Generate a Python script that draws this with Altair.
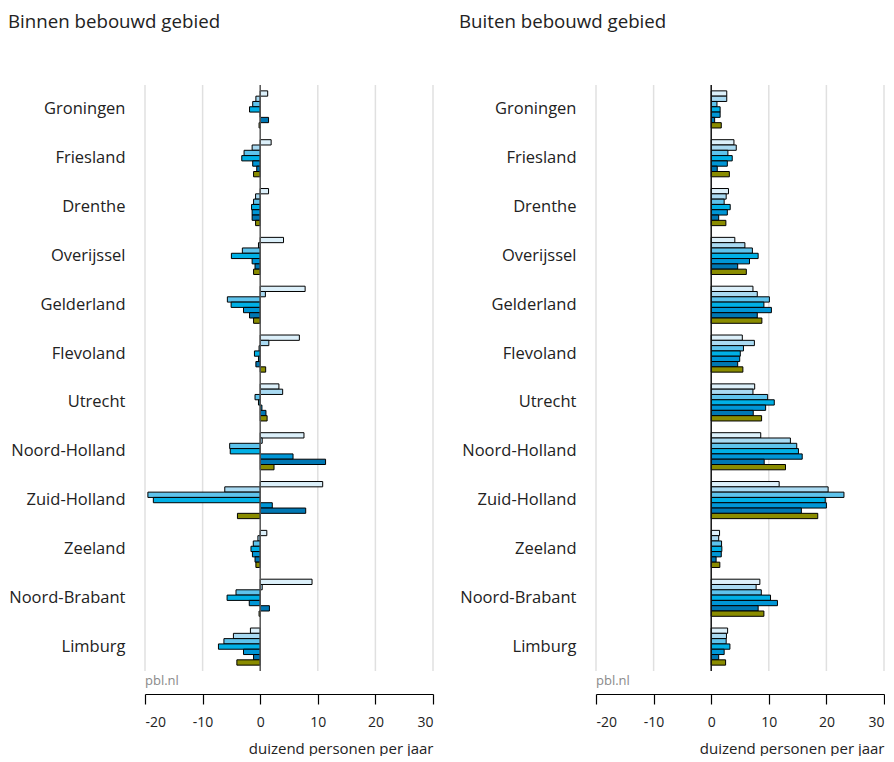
import altair as alt
import pandas as pd

provinces = ["Groningen", "Friesland", "Drenthe", "Overijssel", "Gelderland", "Flevoland",
             "Utrecht", "Noord-Holland", "Zuid-Holland", "Zeeland", "Noord-Brabant", "Limburg"]
series = ["reeks 1", "reeks 2", "reeks 3", "reeks 4", "reeks 5", "reeks 6", "reeks 7"]
colors = ["#dcf0fa", "#a9daf2", "#5ec3ec", "#00b0e6", "#0096d6", "#0077b3", "#8a8c00"]

binnen = [
    [1.3, -0.75, -1.3, -1.85, 0.0, 1.45, -0.2],
    [1.9, -1.4, -2.8, -3.2, -1.3, -0.6, -1.15],
    [1.45, -0.8, -1.15, -1.5, -1.4, -1.4, -0.8],
    [4.05, -0.3, -3.1, -5.0, -1.4, -0.9, -1.15],
    [7.8, 0.9, -5.7, -5.05, -2.9, -1.85, -1.15],
    [6.8, 1.5, -0.2, -1.0, -0.3, -0.75, 0.95],
    [3.25, 3.9, -0.9, -0.3, 0.3, 1.0, 1.2],
    [7.6, 0.35, -5.3, -5.2, 5.7, 11.35, 2.4],
    [10.85, -6.15, -19.5, -18.55, 2.1, 7.9, -3.95],
    [1.15, -0.4, -1.2, -1.6, -1.35, -0.9, -0.75],
    [9.0, 0.35, -4.2, -5.75, -1.9, 1.6, -0.2],
    [-1.7, -4.65, -6.3, -7.25, -2.9, -1.15, -4.05],
]
buiten = [
    [2.7, 2.7, 1.0, 1.55, 1.55, 0.6, 1.75],
    [3.95, 4.35, 2.9, 3.65, 2.8, 1.05, 3.15],
    [3.0, 2.6, 2.25, 3.3, 2.8, 1.3, 2.55],
    [4.1, 5.85, 7.15, 8.15, 6.65, 4.6, 6.1],
    [7.25, 8.0, 10.1, 9.15, 10.45, 8.0, 8.8],
    [5.4, 7.5, 5.6, 5.05, 4.95, 4.6, 5.5],
    [7.55, 7.25, 9.8, 10.95, 9.45, 7.3, 8.75],
    [8.6, 13.75, 14.85, 15.15, 15.8, 9.2, 12.9],
    [11.8, 20.3, 23.05, 19.8, 20.0, 15.65, 18.5],
    [1.45, 1.3, 1.8, 1.85, 1.75, 0.85, 1.5],
    [8.45, 7.8, 8.7, 10.3, 11.5, 8.15, 9.15],
    [2.85, 2.65, 2.6, 3.25, 2.25, 1.3, 2.5],
]
grid_values = [-20, -10, 10, 20, 30]
tick_values = [-20, -15, -10, -5, 0, 5, 10, 15, 20, 25, 30]
titles = ["Binnen bebouwd gebied", "Buiten bebouwd gebied"]
x_title = "duizend personen per jaar"
source_label = "pbl.nl"

FONT = "Open Sans"
W, H = 288, 586


def long_df(values):
    rows = []
    for p, vals in zip(provinces, values):
        for s, v in zip(series, vals):
            rows.append({"provincie": p, "reeks": s, "waarde": v})
    return pd.DataFrame(rows)


xscale = alt.Scale(domain=[-20, 30], nice=False, zero=False)


def panel(values, title, zero_color):
    df = long_df(values)
    grid = alt.Chart(pd.DataFrame({"waarde": grid_values})).mark_rule(
        color="#e0e0e0", strokeWidth=1.5
    ).encode(x=alt.X("waarde:Q", scale=xscale))
    bars = alt.Chart(df).mark_bar(stroke="black", strokeWidth=1).encode(
        x=alt.X("waarde:Q", scale=xscale,
                axis=alt.Axis(
                    title=x_title, titleAnchor="end", titleFontSize=15, titleFont=FONT,
                    titleFontWeight="normal", titleColor="#222", titlePadding=12,
                    values=tick_values, grid=False, offset=23,
                    domainColor="#000", tickColor="#000", domainWidth=1.2, tickWidth=1.2,
                    tickSize={"condition": {"test": "datum.value % 10 !== 0", "value": 5}, "value": 10},
                    labelExpr="datum.value % 10 === 0 ? '' + datum.value : ''",
                    labelFontSize=14, labelFont=FONT, labelColor="#222", labelPadding=11,
                )),
        y=alt.Y("provincie:N", sort=provinces,
                scale=alt.Scale(paddingInner=0.24, paddingOuter=0.12),
                axis=alt.Axis(title=None, domain=False, ticks=False, labelPadding=20,
                              labelFontSize=16.5, labelFont=FONT, labelColor="#222",
                              minExtent=137, maxExtent=137)),
        yOffset=alt.YOffset("reeks:N", sort=series,
                            scale=alt.Scale(paddingInner=0, paddingOuter=0)),
        color=alt.Color("reeks:N", sort=series,
                        scale=alt.Scale(domain=series, range=colors), legend=None),
    )
    zero = alt.Chart(pd.DataFrame({"waarde": [0]})).mark_rule(
        color=zero_color, strokeWidth=1.5
    ).encode(x=alt.X("waarde:Q", scale=xscale))
    src = alt.Chart(pd.DataFrame({"t": [source_label]})).mark_text(
        align="left", baseline="middle", fontSize=13, font=FONT, color="#8a8a8a"
    ).encode(text="t:N", x=alt.value(0), y=alt.value(H + 10))
    return alt.layer(grid, bars, zero, src).properties(
        width=W, height=H,
        title=alt.TitleParams(title, anchor="start", frame="bounds", fontSize=18.7,
                              font=FONT, fontWeight="normal", color="#222", offset=53),
    )


chart = alt.hconcat(
    panel(binnen, titles[0], "#555555"),
    panel(buiten, titles[1], "#111111"),
    spacing=25,
).properties(padding={"top": 4, "left": 0, "right": 0, "bottom": 0}).configure(
    background="white", view=alt.ViewConfig(stroke=None)
)

chart.save("out.html", embed_options={"renderer": "svg", "actions": False})
